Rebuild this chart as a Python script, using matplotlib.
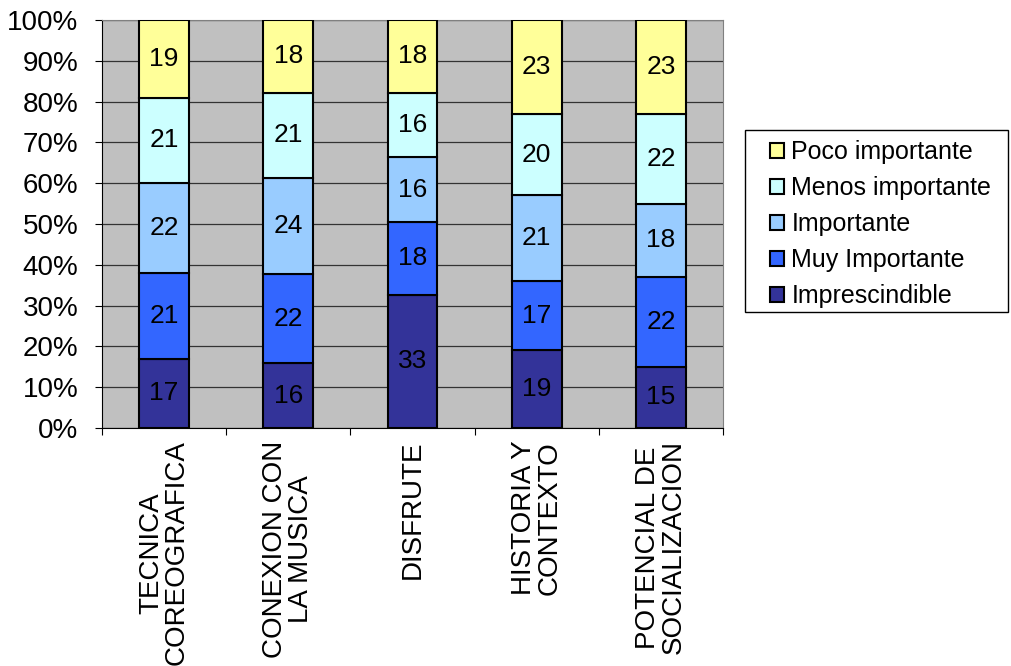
import numpy as np
import matplotlib.pyplot as plt
from matplotlib.patches import Rectangle
from matplotlib.ticker import FuncFormatter, MultipleLocator

plt.rcParams['font.family'] = ['Liberation Sans', 'DejaVu Sans']

categories = [
    "TECNICA\nCOREOGRAFICA",
    "CONEXION CON\nLA MUSICA",
    "DISFRUTE",
    "HISTORIA Y\nCONTEXTO",
    "POTENCIAL DE\nSOCIALIZACION",
]
# bottom to top
series_names = ["Imprescindible", "Muy Importante", "Importante",
                "Menos importante", "Poco importante"]
imprescindible = [17, 16, 33, 19, 15]
muy_importante = [21, 22, 18, 17, 22]
importante = [22, 24, 16, 21, 18]
menos_importante = [21, 21, 16, 20, 22]
poco_importante = [19, 18, 18, 23, 23]
colors = ["#333399", "#3366FF", "#99CCFF", "#CCFFFF", "#FFFF99"]

data = np.array([imprescindible, muy_importante, importante,
                 menos_importante, poco_importante], dtype=float)
totals = data.sum(axis=0)
pct = data / totals * 100

fig = plt.figure(figsize=(10.12, 6.66), dpi=100)
ax = fig.add_axes([102 / 1012, 1 - 428 / 666, 621 / 1012, 408 / 666])
ax.set_facecolor("#C0C0C0")

x = np.arange(len(categories))
bottom = np.zeros(len(categories))
handles = []
for i, name in enumerate(series_names):
    bars = ax.bar(x, pct[i], 0.4, bottom=bottom, color=colors[i],
                  edgecolor="black", linewidth=1.5, label=name, zorder=3)
    handles.append(bars)
    for xi, b, h, v in zip(x, bottom, pct[i], data[i]):
        ax.text(xi, b + h / 2, f"{int(v)}", ha="center", va="center",
                fontsize=19, zorder=4)
    bottom += pct[i]

ax.set_xlim(-0.5, len(categories) - 0.5)
ax.set_ylim(0, 100)
ax.yaxis.set_major_locator(MultipleLocator(10))
ax.yaxis.set_major_formatter(FuncFormatter(lambda v, p: f"{int(v)}%"))
ax.grid(axis="y", color="#333333", linewidth=0.9, zorder=1)
ax.set_axisbelow(True)

ax.set_xticks(np.arange(-0.5, len(categories), 1.0), minor=False)
ax.set_xticklabels([])
ax.set_xticks(x, minor=True)
ax.set_xticklabels(categories, minor=True, rotation=90, fontsize=20,
                   ha="center", va="top", multialignment="center",
                   linespacing=1.0)
ax.tick_params(axis="x", which="minor", length=0, pad=9)
ax.tick_params(axis="x", which="major", length=5, color="black")
ax.tick_params(axis="y", labelsize=20, length=5, color="black", pad=12)

for side in ["top", "right"]:
    ax.spines[side].set_color("#808080")
for side in ["left", "bottom"]:
    ax.spines[side].set_color("black")

# legend box drawn separately so its padding matches the reference
fig.patches.append(Rectangle((745 / 1012, 1 - 312 / 666), 263 / 1012, 182 / 666,
                             transform=fig.transFigure, facecolor="white",
                             edgecolor="black", linewidth=1.0))
leg = fig.legend(handles[::-1], series_names[::-1], loc="upper left",
                 bbox_to_anchor=(770 / 1012, 1 - 140 / 666),
                 fontsize=18, frameon=False,
                 handlelength=0.55, handleheight=0.55, handletextpad=0.3,
                 labelspacing=0.48, borderpad=0, borderaxespad=0)

fig.savefig("out.png", dpi=100)
